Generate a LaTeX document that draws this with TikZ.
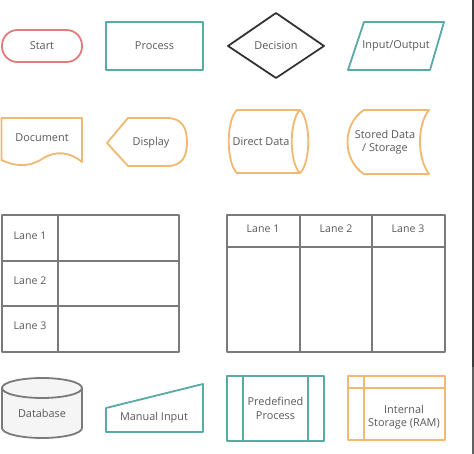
\documentclass[tikz,border=0pt]{standalone}
\usepackage{fontspec}
\setmainfont{Open Sans}
\definecolor{cred}{HTML}{E07C7C}
\definecolor{cteal}{HTML}{5AA9A6}
\definecolor{corange}{HTML}{F0B870}
\definecolor{cdark}{HTML}{333333}
\definecolor{clane}{HTML}{7A7A7A}
\definecolor{ctext}{HTML}{5A5A5A}
\definecolor{cdbfill}{HTML}{F5F5F5}
\begin{document}
\begin{tikzpicture}[x=1pt,y=-1pt,
  shp/.style={line width=1.8pt, line join=round},
  lbl/.style={text=ctext, font=\fontsize{10.9}{13.5}\selectfont, align=center, inner sep=0pt},
  lanelbl/.style={text=ctext, font=\fontsize{10.6}{13}\selectfont, inner sep=0pt}]
\useasboundingbox (0,0) rectangle (474,454);
\fill[white] (0,0) rectangle (474,454);
% right dark strip
\fill[fill=black!76] (471.5,0) rectangle (474,367);
\fill[fill=black!62] (471.5,367) rectangle (474,454);
% Start
\draw[shp, cred, rounded corners=15.5pt] (2,30) rectangle (82,62);
\node[lbl] (start) at (42,46) {Start};
% Process
\draw[shp, cteal] (106,22) rectangle (203,70);
\node[lbl] (process) at (154.5,46) {Process};
% Decision
\draw[shp, cdark] (228,46) -- (276,13) -- (324,46) -- (276,78) -- cycle;
\node[lbl] (decision) at (276,46) {Decision};
% Input/Output
\draw[shp, cteal] (364,22) -- (444,22) -- (430,70) -- (348,70) -- cycle;
\node[lbl] (io) at (396,46) {Input/Output};
% Document
\draw[shp, corange] (1.5,118) -- (82,118) -- (82,162)
  .. controls (70,152) and (56,150) .. (42,159)
  .. controls (28,168) and (14,166) .. (1.5,160) -- cycle;
\node[lbl] (document) at (42,138) {Document};
% Display
\draw[shp, corange] (107,143) -- (128,118) -- (167,118)
  .. controls (182,118) and (187,128) .. (187,142)
  .. controls (187,157) and (182,166) .. (167,166) -- (128,166) -- cycle;
\node[lbl] (display) at (151,143) {Display};
% Direct Data
\draw[shp, corange] (237,110) -- (300,110)
  .. controls (311,120) and (311,163) .. (300,173) -- (237,173)
  .. controls (226,163) and (226,120) .. (237,110) -- cycle;
\draw[shp, corange] (300,110) .. controls (289,120) and (289,163) .. (300,173);
\node[lbl] (direct) at (261,142) {Direct Data};
% Stored Data
\draw[shp, corange] (364,110) -- (429,110)
  .. controls (417,125) and (417,158) .. (429,174) -- (364,174)
  .. controls (342,160) and (342,124) .. (364,110) -- cycle;
\node[lbl] (stored) at (385,142) {Stored Data\\/ Storage};
% Horizontal swimlanes
\draw[shp, clane] (2,215) rectangle (179,352);
\draw[shp, clane] (58,215) -- (58,352);
\draw[shp, clane] (2,261) -- (179,261);
\draw[shp, clane] (2,306) -- (179,306);
\node[lanelbl] (hl1) at (30,236) {Lane 1};
\node[lanelbl] (hl2) at (30,281) {Lane 2};
\node[lanelbl] (hl3) at (30,326) {Lane 3};
% Vertical swimlanes
\draw[shp, clane] (227,215) rectangle (445,352);
\draw[shp, clane] (227,247) -- (445,247);
\draw[shp, clane] (300,215) -- (300,352);
\draw[shp, clane] (372,215) -- (372,352);
\node[lanelbl] (vl1) at (263,229) {Lane 1};
\node[lanelbl] (vl2) at (336,229) {Lane 2};
\node[lanelbl] (vl3) at (408,229) {Lane 3};
% Database
\draw[shp, clane, fill=cdbfill] (2,388) -- (2,428) arc[start angle=180, end angle=360, x radius=40, y radius=-10]
  -- (82,388) arc[start angle=0, end angle=180, x radius=40, y radius=-10] -- cycle;
\draw[shp, clane] (2,388) arc[start angle=180, end angle=360, x radius=40, y radius=-10];
\node[lbl] (database) at (42,413) {Database};
% Manual Input
\draw[shp, cteal] (106,408) -- (203,384) -- (203,432) -- (106,432) -- cycle;
\node[lbl] (manual) at (154,418) {Manual Input};
% Predefined Process
\draw[shp, cteal] (227,376) rectangle (324,441);
\draw[shp, cteal] (243,376) -- (243,441);
\draw[shp, cteal] (308,376) -- (308,441);
\node[lbl] (predef) at (275.5,408.5) {Predefined\\Process};
% Internal Storage
\draw[shp, corange] (348,376) rectangle (445,440);
\draw[shp, corange] (348,388) -- (445,388);
\draw[shp, corange] (364,376) -- (364,440);
\node[lbl] (internal) at (404,417) {Internal\\Storage (RAM)};
\end{tikzpicture}
\end{document}
